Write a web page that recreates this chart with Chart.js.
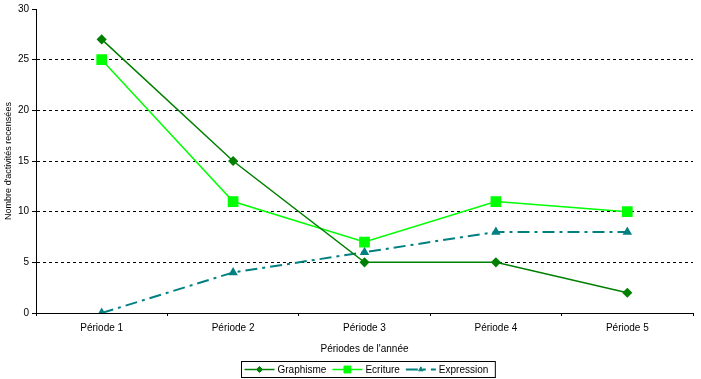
<!DOCTYPE html>
<html>
<head>
<meta charset="utf-8">
<script src="https://cdn.jsdelivr.net/npm/chart.js@4"></script>
<style>
  html, body { margin: 0; padding: 0; background: #fff; }
  #wrap { width: 701px; height: 379px; }
</style>
</head>
<body>
<div id="wrap"><canvas id="chart"></canvas></div>
<script>
const periods = ["Période 1", "Période 2", "Période 3", "Période 4", "Période 5"];
const graphisme = [27, 15, 5, 5, 2];
const ecriture = [25, 11, 7, 11, 10];
const expression = [0, 4, 6, 8, 8];
const yTicks = [0, 5, 10, 15, 20, 25, 30];

const FONT = "'Liberation Sans', Arial, sans-serif";

// legend drawn by hand: boxed, line + marker samples
const boxedLegend = {
  id: "boxedLegend",
  afterDraw(chart) {
    const c = chart.ctx;
    const sets = chart.data.datasets;
    c.save();
    c.font = "10px " + FONT;
    const lineW = 30, gap = 3, itemGap = 6;
    let total = 4;
    sets.forEach(ds => { total += lineW + gap + c.measureText(ds.label).width + itemGap; });
    const x0 = Math.round(368 - total / 2) + 0.5;
    const y0 = 361.5, h = 16;
    c.strokeStyle = "#000";
    c.lineWidth = 1;
    c.strokeRect(x0, y0, total, h);
    let x = x0 + 3;
    const cy = y0 + h / 2;
    sets.forEach(ds => {
      c.strokeStyle = ds.borderColor;
      c.lineWidth = ds.borderWidth;
      c.setLineDash(ds.borderDash || []);
      c.beginPath();
      c.moveTo(x, cy);
      c.lineTo(x + lineW, cy);
      c.stroke();
      c.setLineDash([]);
      c.fillStyle = ds.pointBackgroundColor;
      c.strokeStyle = ds.pointBorderColor;
      c.lineWidth = 1;
      Chart.helpers.drawPoint(c, {pointStyle: ds.pointStyle, radius: ds.pointRadius * 0.75, borderWidth: 1}, x + lineW / 2, cy);
      c.fillStyle = "#000";
      c.textBaseline = "middle";
      c.textAlign = "left";
      c.fillText(ds.label, x + lineW + gap, cy + 1);
      x += lineW + gap + c.measureText(ds.label).width + itemGap;
    });
    c.restore();
  }
};

new Chart(document.getElementById("chart"), {
  type: "line",
  data: {
    labels: periods,
    datasets: [
      {
        label: "Graphisme",
        data: graphisme,
        borderColor: "#008000",
        borderWidth: 1.5,
        pointStyle: "rectRot",
        pointRadius: 4,
        pointBackgroundColor: "#008000",
        pointBorderColor: "#008000",
        tension: 0
      },
      {
        label: "Ecriture",
        data: ecriture,
        borderColor: "#00ff00",
        borderWidth: 1.5,
        pointStyle: "rect",
        pointRadius: 6.5,
        pointBackgroundColor: "#00ff00",
        pointBorderColor: "#00ff00",
        tension: 0
      },
      {
        label: "Expression",
        data: expression,
        borderColor: "#008080",
        borderWidth: 2,
        borderDash: [12, 5, 3, 5],
        pointStyle: "triangle",
        pointRadius: 3.5,
        pointBackgroundColor: "#008080",
        pointBorderColor: "#008080",
        tension: 0
      }
    ]
  },
  options: {
    responsive: true,
    maintainAspectRatio: false,
    animation: false,
    layout: { padding: { top: 6, right: 3, bottom: 24, left: 3 } },
    plugins: {
      legend: { display: false },
      tooltip: { enabled: false }
    },
    scales: {
      x: {
        offset: true,
        grid: {
          offset: true,
          drawOnChartArea: false,
          tickLength: 3,
          tickColor: "#000"
        },
        border: { color: "#000", width: 1 },
        ticks: { color: "#000", font: { family: FONT, size: 10 }, padding: 6 },
        title: {
          display: true,
          text: "Périodes de l'année",
          color: "#000",
          font: { family: FONT, size: 10 },
          padding: { top: 4, bottom: 0 }
        },
        afterFit(scale) { scale.height = 42; }
      },
      y: {
        min: 0,
        max: 30,
        afterBuildTicks(scale) { scale.ticks = yTicks.map(v => ({ value: v })); },
        grid: {
          color: ctx => (ctx.tick && (ctx.tick.value === 0 || ctx.tick.value === 30)) ? "rgba(0,0,0,0)" : "#000",
          tickColor: "#000",
          tickBorderDash: [],
          tickLength: 4
        },
        border: { color: "#000", width: 1, dash: [3, 3] },
        ticks: { color: "#000", font: { family: FONT, size: 10 }, padding: 3 },
        title: {
          display: true,
          text: "Nombre d'activités recensées",
          color: "#000",
          font: { family: FONT, size: 9 },
          padding: { top: 0, bottom: 0 }
        },
        afterFit(scale) { scale.width = 33; }
      }
    }
  },
  plugins: [boxedLegend]
});
</script>
</body>
</html>
